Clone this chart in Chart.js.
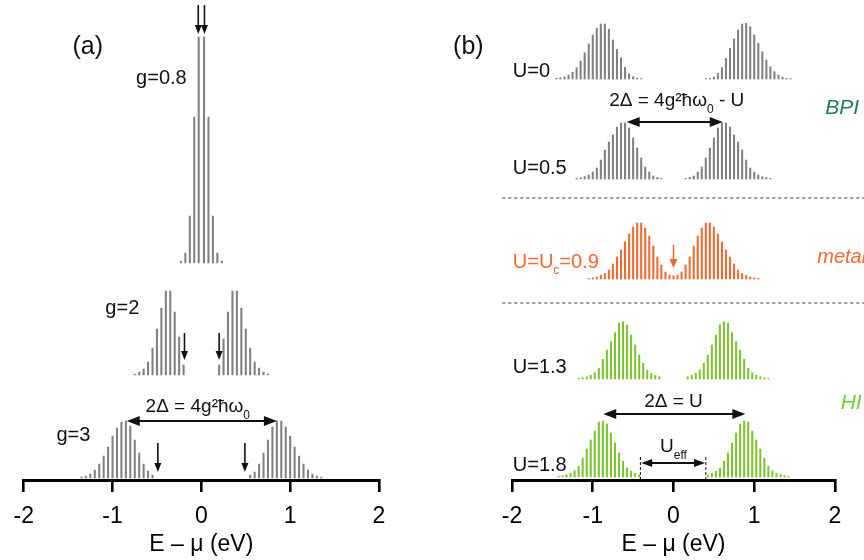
<!DOCTYPE html>
<html><head><meta charset="utf-8">
<script src="https://cdn.jsdelivr.net/npm/chart.js@4/dist/chart.umd.min.js"></script>
<style>
html,body{margin:0;padding:0;background:#fff;}
#wrap{position:relative;width:864px;height:560px;overflow:hidden;background:#fff;}
canvas{position:absolute;top:0;}
#ca{left:0}
#cb{left:432px}
</style></head><body>
<div id="wrap"><canvas id="ca" width="432" height="560"></canvas><canvas id="cb" width="432" height="560"></canvas></div>
<script>
// ---------------- DATA ----------------
const X_TICKS = [-2, -1, 0, 1, 2];
const TICK_LABELS = ['-2', '-1', '0', '1', '2'];
const X_TITLE = 'E \u2013 \u03bc (eV)';

// Panel (a): stick spectra (energy in eV, intensity in arbitrary units)
const G08_E = [-0.23, -0.18, -0.13, -0.08, -0.03, 0.03, 0.08, 0.13, 0.18, 0.23];
const G08_I = [2, 10, 47, 146, 226, 226, 146, 47, 10, 2];

const G2_E = [-0.75, -0.70, -0.65, -0.60, -0.55, -0.50, -0.45, -0.40, -0.35, -0.30, -0.25, -0.20,
              0.20, 0.25, 0.30, 0.35, 0.40, 0.45, 0.50, 0.55, 0.60, 0.65, 0.70, 0.75];
const G2_I = [1, 3, 6, 13, 27, 46, 67, 84, 84, 63, 38, 10,
              10, 36, 63, 84, 84, 67, 46, 27, 13, 7, 3, 1];

const G3_E = [-1.35, -1.30, -1.25, -1.20, -1.15, -1.10, -1.05, -1.00, -0.95, -0.90, -0.85, -0.80, -0.75, -0.70, -0.65, -0.60, -0.55,
              0.55, 0.60, 0.65, 0.70, 0.75, 0.80, 0.85, 0.90, 0.95, 1.00, 1.05, 1.10, 1.15, 1.20, 1.25, 1.30, 1.35];
const G3_I = [1, 2, 4, 8, 14, 22, 31, 42, 50, 56, 57, 52, 38, 25, 14, 7, 3,
              3, 6, 14, 25, 38, 51, 57, 57, 51, 42, 31, 22, 14, 8, 4, 2, 1];

// Panel (b)
const U0_E = [-1.45, -1.40, -1.35, -1.30, -1.25, -1.20, -1.15, -1.10, -1.05, -1.00, -0.95, -0.90, -0.85, -0.80, -0.75, -0.70, -0.65, -0.60, -0.55, -0.50, -0.45, -0.40,
              0.40, 0.45, 0.50, 0.55, 0.60, 0.65, 0.70, 0.75, 0.80, 0.85, 0.90, 0.95, 1.00, 1.05, 1.10, 1.15, 1.20, 1.25, 1.30, 1.35, 1.40, 1.45];
const U0_I = [0.7, 1.3, 2.3, 4, 6.7, 11.3, 18, 26.3, 35, 44, 50.7, 55, 55, 49.7, 39, 29.7, 21.3, 11.7, 5, 2.3, 0.7, 0.4,
              0.4, 0.7, 2, 5.7, 11.3, 20.7, 30.7, 40, 49, 55, 55.7, 52.3, 44, 35.7, 27.3, 19, 12.3, 7.3, 4, 2, 0.7, 0.4];

const U05_E = [-1.20, -1.15, -1.10, -1.05, -1.00, -0.95, -0.90, -0.85, -0.80, -0.75, -0.70, -0.65, -0.60, -0.55, -0.50, -0.45, -0.40, -0.35, -0.30, -0.25, -0.20, -0.15,
               0.15, 0.20, 0.25, 0.30, 0.35, 0.40, 0.45, 0.50, 0.55, 0.60, 0.65, 0.70, 0.75, 0.80, 0.85, 0.90, 0.95, 1.00, 1.05, 1.10, 1.15, 1.20];
const U05_I = [0.7, 1.3, 2.3, 4, 7, 11, 19, 29, 37, 44, 52, 56, 56, 51, 41, 31, 21, 12, 7, 3, 1.7, 0.7,
               0.7, 1.7, 3, 7, 12, 21, 31, 41, 51, 56, 56, 52, 44, 37, 29, 19, 11, 7, 4, 2.3, 1.3, 0.7];

const U09_E = [-1.05, -1.00, -0.95, -0.90, -0.85, -0.80, -0.75, -0.70, -0.65, -0.60, -0.55, -0.50, -0.45, -0.40, -0.35, -0.30, -0.25, -0.20, -0.15, -0.10, -0.05,
               0.00, 0.05, 0.10, 0.15, 0.20, 0.25, 0.30, 0.35, 0.40, 0.45, 0.50, 0.55, 0.60, 0.65, 0.70, 0.75, 0.80, 0.85, 0.90, 0.95, 1.00, 1.05];
const U09_I = [0.6, 1.2, 2, 3.5, 5.5, 9, 15, 22, 29, 37, 45, 52, 56, 56, 51, 43, 33, 22, 14, 7, 4,
               3, 4, 7, 14, 22, 33, 43, 51, 56, 56, 52, 45, 37, 29, 22, 15, 9, 5.5, 3.5, 2, 1.2, 0.6];

const U13_E = [-1.175, -1.125, -1.075, -1.025, -0.975, -0.925, -0.875, -0.825, -0.775, -0.725, -0.675, -0.625, -0.575, -0.525, -0.475, -0.425, -0.375, -0.325, -0.275, -0.225, -0.175,
               0.175, 0.225, 0.275, 0.325, 0.375, 0.425, 0.475, 0.525, 0.575, 0.625, 0.675, 0.725, 0.775, 0.825, 0.875, 0.925, 0.975, 1.025, 1.075, 1.125, 1.175];
const U13_I = [0.7, 1.3, 2.3, 3.7, 6.3, 10.7, 19.7, 29, 37.3, 46.3, 55.7, 57.3, 54, 44, 34, 24, 15.7, 9, 5.7, 3.7, 2.3,
               2.3, 3.7, 5.7, 9, 15.7, 24, 34, 44, 54, 57.3, 55.7, 46.3, 37.3, 29, 19.7, 10.7, 6.3, 3.7, 2.3, 1.3, 0.7];

const U18_E = [-1.425, -1.375, -1.325, -1.275, -1.225, -1.175, -1.125, -1.075, -1.025, -0.975, -0.925, -0.875, -0.825, -0.775, -0.725, -0.675, -0.625, -0.575, -0.525, -0.475, -0.425,
               0.425, 0.475, 0.525, 0.575, 0.625, 0.675, 0.725, 0.775, 0.825, 0.875, 0.925, 0.975, 1.025, 1.075, 1.125, 1.175, 1.225, 1.275, 1.325, 1.375, 1.425];
const U18_I = [0.7, 1.3, 2.3, 3.7, 6.3, 10.7, 19, 28, 37, 46, 55, 56, 53, 44, 34, 24, 15.7, 9, 5.7, 3.7, 2,
               2, 3.7, 5.7, 9, 15.7, 24, 34, 44, 53, 56, 55, 46, 37, 28, 19, 10.7, 6.3, 3.7, 2.3, 1.3, 0.7];

// ---------------- LAYOUT / STYLE ----------------
const FAM = '"Liberation Sans", Arial, Helvetica, sans-serif';
const GRAY = '#808080', ORANGE = '#f26a30', GREEN = '#7cc52e';
const Y_RANGE = [0, 480];          // vertical frame used to stack the spectra
const OFFSET_A = {g08: 217, g2: 105, g3: 2};
const OFFSET_B = {u0: 401, u05: 301, u09: 201, u13: 101, u18: 3};

function sticks(E, I, base, color) {
  return {
    data: E.map((e, i) => ({x: e, y: [base, base + I[i]]})),
    backgroundColor: color, borderWidth: 0, barThickness: 1.4, grouped: false
  };
}

function drawRich(ctx, parts, x, y, size, color, align, italic) {
  const st = italic ? 'italic ' : '';
  const fs = m => (m === 'sub' ? Math.round(size * 0.62) : size);
  let w = 0;
  for (const [t, m] of parts) { ctx.font = st + fs(m) + 'px ' + FAM; w += ctx.measureText(t).width; }
  let cx = align === 'center' ? x - w / 2 : (align === 'right' ? x - w : x);
  ctx.fillStyle = color; ctx.textBaseline = 'middle'; ctx.textAlign = 'left';
  for (const [t, m] of parts) {
    ctx.font = st + fs(m) + 'px ' + FAM;
    ctx.fillText(t, cx, m === 'sub' ? y + size * 0.45 : y);
    cx += ctx.measureText(t).width;
  }
}
function head(ctx, x1, y1, x2, y2, len, half) {
  const a = Math.atan2(y2 - y1, x2 - x1), c = Math.cos(a), s = Math.sin(a);
  ctx.beginPath(); ctx.moveTo(x2, y2);
  ctx.lineTo(x2 - len * c + half * s, y2 - len * s - half * c);
  ctx.lineTo(x2 - len * c - half * s, y2 - len * s + half * c);
  ctx.closePath(); ctx.fill();
}
function annotPlugin(items) {
  return {
    id: 'annot',
    afterDatasetsDraw(chart) {
      const ctx = chart.ctx, xs = chart.scales.x, ys = chart.scales.y;
      const X = v => xs.getPixelForValue(v), Y = v => ys.getPixelForValue(v);
      ctx.save();
      for (const it of items) {
        const col = it.color || '#111';
        if (it.t === 'text') {
          drawRich(ctx, it.parts, X(it.x), Y(it.y), it.size, col, it.align || 'center', it.italic);
        } else if (it.t === 'arrow') {
          const x1 = X(it.x1), y1 = Y(it.y1), x2 = X(it.x2), y2 = Y(it.y2);
          const len = it.len || 9, half = it.half || 3.5;
          const d = Math.hypot(x2 - x1, y2 - y1), ux = (x2 - x1) / d, uy = (y2 - y1) / d;
          ctx.strokeStyle = col; ctx.fillStyle = col; ctx.lineWidth = it.w || 1.6; ctx.setLineDash([]);
          ctx.beginPath();
          const sx = it.both ? x1 + ux * len * 0.8 : x1, sy = it.both ? y1 + uy * len * 0.8 : y1;
          ctx.moveTo(sx, sy); ctx.lineTo(x2 - ux * len * 0.8, y2 - uy * len * 0.8); ctx.stroke();
          head(ctx, x1, y1, x2, y2, len, half);
          if (it.both) head(ctx, x2, y2, x1, y1, len, half);
        } else if (it.t === 'line') {
          ctx.strokeStyle = col; ctx.lineWidth = it.w || 1; ctx.setLineDash(it.dash || []);
          ctx.beginPath(); ctx.moveTo(X(it.x1), Y(it.y1)); ctx.lineTo(X(it.x2), Y(it.y2)); ctx.stroke();
          ctx.setLineDash([]);
        }
      }
      ctx.restore();
    }
  };
}

function makeOptions(padL, padR) {
  return {
    responsive: false, animation: false, devicePixelRatio: 1,
    layout: {padding: {left: padL, right: padR, top: 0, bottom: 0}},
    plugins: {legend: {display: false}, tooltip: {enabled: false}},
    scales: {
      x: {
        type: 'linear', min: X_TICKS[0], max: X_TICKS[X_TICKS.length - 1], offset: false,
        afterBuildTicks: s => { s.ticks = X_TICKS.map(v => ({value: v})); },
        grid: {display: true, drawOnChartArea: false, drawTicks: true, tickLength: 12, lineWidth: 2.6, color: '#000', offset: false},
        border: {display: true, width: 3, color: '#000'},
        ticks: {
          color: '#000', padding: 13.5, maxRotation: 0, autoSkip: false,
          font: {family: FAM, size: 23, lineHeight: 1},
          callback: v => TICK_LABELS[X_TICKS.indexOf(v)]
        },
        title: {display: true, text: X_TITLE, color: '#000', font: {family: FAM, size: 23, lineHeight: 1}, padding: {top: -8.5, bottom: 3.5}}
      },
      y: {type: 'linear', display: false, min: Y_RANGE[0], max: Y_RANGE[1]}
    }
  };
}

// ---------------- PANEL (a) ----------------
const annA = [
  {t: 'text', parts: [['(a)']], x: -1.28, y: 433, size: 25},
  {t: 'text', parts: [['g=0.8']], x: -0.45, y: 402, size: 20},
  {t: 'text', parts: [['g=2']], x: -0.89, y: 172, size: 20},
  {t: 'text', parts: [['g=3']], x: -1.44, y: 45, size: 20},
  {t: 'text', parts: [['2\u0394 = 4g\u00b2\u0127\u03c9'], ['0', 'sub']], x: -0.04, y: 73, size: 19},
  {t: 'arrow', x1: -0.84, y1: 59, x2: 0.85, y2: 59, both: true, len: 13, half: 5, w: 2},
  {t: 'arrow', x1: -0.035, y1: 475, x2: -0.035, y2: 446},
  {t: 'arrow', x1: 0.035, y1: 475, x2: 0.035, y2: 446},
  {t: 'arrow', x1: -0.19, y1: 147, x2: -0.19, y2: 120},
  {t: 'arrow', x1: 0.20, y1: 147, x2: 0.20, y2: 120},
  {t: 'arrow', x1: -0.49, y1: 37, x2: -0.49, y2: 8},
  {t: 'arrow', x1: 0.49, y1: 37, x2: 0.49, y2: 8}
];
new Chart(document.getElementById('ca'), {
  type: 'bar',
  data: {datasets: [
    sticks(G08_E, G08_I, OFFSET_A.g08, GRAY),
    sticks(G2_E, G2_I, OFFSET_A.g2, GRAY),
    sticks(G3_E, G3_I, OFFSET_A.g3, GRAY)
  ]},
  options: makeOptions(23, 53),
  plugins: [annotPlugin(annA)]
});

// ---------------- PANEL (b) ----------------
const annB = [
  {t: 'text', parts: [['(b)']], x: -2.54, y: 433, size: 25},
  {t: 'text', parts: [['U=0']], x: -1.99, y: 409, size: 20, align: 'left'},
  {t: 'text', parts: [['U=0.5']], x: -1.99, y: 312, size: 20, align: 'left'},
  {t: 'text', parts: [['U=U'], ['c', 'sub'], ['=0.9']], x: -1.99, y: 218, size: 20, align: 'left', color: ORANGE},
  {t: 'text', parts: [['U=1.3']], x: -1.99, y: 113, size: 20, align: 'left'},
  {t: 'text', parts: [['U=1.8']], x: -1.99, y: 15, size: 20, align: 'left'},
  {t: 'text', parts: [['2\u0394 = 4g\u00b2\u0127\u03c9'], ['0', 'sub'], [' - U']], x: 0.04, y: 379, size: 19},
  {t: 'arrow', x1: -0.58, y1: 358, x2: 0.61, y2: 358, both: true, len: 13, half: 5, w: 2},
  {t: 'line', x1: -2.12, y1: 282, x2: 2.4, y2: 282, dash: [3, 3], color: '#333', w: 1},
  {t: 'line', x1: -2.12, y1: 177, x2: 2.4, y2: 177, dash: [3, 3], color: '#333', w: 1},
  {t: 'arrow', x1: 0, y1: 235, x2: 0, y2: 212, color: ORANGE, len: 9, half: 4},
  {t: 'text', parts: [['BPI']], x: 2.09, y: 372, size: 21, italic: true, color: '#1f7a5f'},
  {t: 'text', parts: [['metal']], x: 1.78, y: 223, size: 20, italic: true, color: ORANGE, align: 'left'},
  {t: 'text', parts: [['HI']], x: 2.2, y: 77, size: 21, italic: true, color: '#6fcf2e'},
  {t: 'text', parts: [['2\u0394 = U']], x: 0, y: 78, size: 19},
  {t: 'arrow', x1: -0.87, y1: 66, x2: 0.89, y2: 66, both: true, len: 13, half: 5, w: 2},
  {t: 'line', x1: -0.41, y1: 23, x2: -0.41, y2: 0, dash: [3, 2], color: '#111', w: 1},
  {t: 'line', x1: 0.40, y1: 23, x2: 0.40, y2: 0, dash: [3, 2], color: '#111', w: 1},
  {t: 'arrow', x1: -0.40, y1: 17, x2: 0.39, y2: 17, both: true, len: 11, half: 4, w: 1.8},
  {t: 'text', parts: [['U'], ['eff', 'sub']], x: 0, y: 33, size: 19}
];
new Chart(document.getElementById('cb'), {
  type: 'bar',
  data: {datasets: [
    sticks(U0_E, U0_I, OFFSET_B.u0, GRAY),
    sticks(U05_E, U05_I, OFFSET_B.u05, GRAY),
    sticks(U09_E, U09_I, OFFSET_B.u09, ORANGE),
    sticks(U13_E, U13_I, OFFSET_B.u13, GREEN),
    sticks(U18_E, U18_I, OFFSET_B.u18, GREEN)
  ]},
  options: makeOptions(80, 29),
  plugins: [annotPlugin(annB)]
});
</script>
</body></html>
